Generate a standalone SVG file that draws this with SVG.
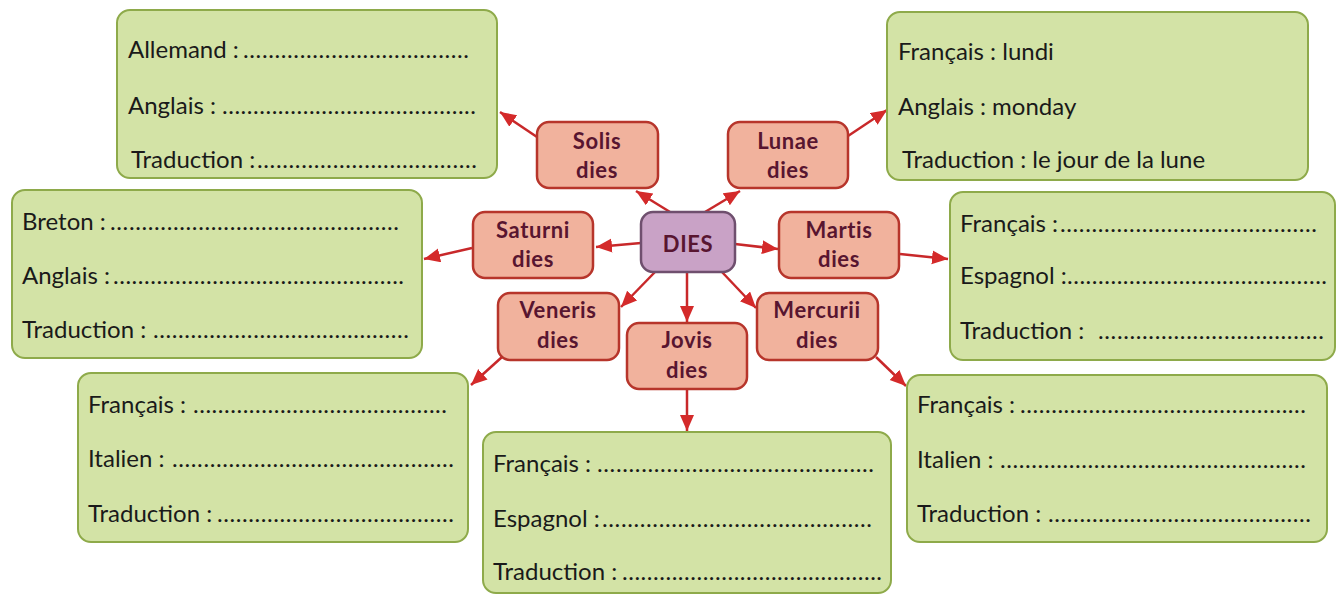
<svg xmlns="http://www.w3.org/2000/svg" width="1342" height="596" viewBox="0 0 1342 596">
<style>
  .box { fill: #d3e3a6; stroke: #8eaa4a; stroke-width: 2; }
  .lbl { font-family: Lato, "Open Sans", sans-serif; font-size: 24px; fill: #1a1a1a; }
  .node { fill: #f1b29d; stroke: #b7352b; stroke-width: 2.5; }
  .center { fill: #c9a2c6; stroke: #6f4f6e; stroke-width: 2.5; }
  .nt { font-family: Lato, "Open Sans", sans-serif; font-size: 22px; font-weight: bold; fill: #581530; text-anchor: middle; letter-spacing: 0.6px; }
  .conn line { stroke: #c8282a; stroke-width: 2.5; marker-end: url(#ah); }
</style>
<defs>
  <marker id="ah" markerUnits="userSpaceOnUse" markerWidth="18" markerHeight="16" refX="16" refY="7" orient="auto">
    <path d="M0,0 L16,7 L0,14 z" fill="#d42a2a"/>
  </marker>
</defs>
<rect width="1342" height="596" fill="#ffffff"/>

<g id="connectors" class="conn">
  <line x1="670" y1="212" x2="636" y2="191"/>
  <line x1="705" y1="212" x2="740" y2="191"/>
  <line x1="641" y1="243" x2="596" y2="247"/>
  <line x1="735" y1="244" x2="778" y2="249"/>
  <line x1="655" y1="272" x2="621" y2="307"/>
  <line x1="687" y1="272" x2="687" y2="322"/>
  <line x1="722" y1="272" x2="756" y2="308"/>
  <line x1="537" y1="137" x2="500" y2="112"/>
  <line x1="848" y1="136" x2="887" y2="110"/>
  <line x1="472" y1="248" x2="424" y2="259"/>
  <line x1="900" y1="254" x2="948" y2="259"/>
  <line x1="502" y1="357" x2="471" y2="385"/>
  <line x1="687" y1="389" x2="687" y2="431"/>
  <line x1="876" y1="357" x2="906" y2="386"/>
</g>

<g id="box-solis">
  <rect class="box" x="117" y="10" width="380" height="168" rx="13"/>
  <text class="lbl" x="128" y="58">Allemand :<tspan x="243" textLength="226" lengthAdjust="spacing">....................................</tspan></text>
  <text class="lbl" x="128" y="114">Anglais :<tspan x="222" textLength="254" lengthAdjust="spacing">.........................................</tspan></text>
  <text class="lbl" x="131" y="168">Traduction :<tspan x="257" textLength="220" lengthAdjust="spacing">...................................</tspan></text>
</g>

<g id="box-lunae">
  <rect class="box" x="887" y="12" width="421" height="168" rx="13"/>
  <text class="lbl" x="898" y="60">Français : lundi</text>
  <text class="lbl" x="898" y="115">Anglais : monday</text>
  <text class="lbl" x="902" y="168">Traduction : le jour de la lune</text>
</g>

<g id="box-saturni">
  <rect class="box" x="12" y="190" width="410" height="168" rx="13"/>
  <text class="lbl" x="22" y="230">Breton :<tspan x="110" textLength="289" lengthAdjust="spacing">..............................................</tspan></text>
  <text class="lbl" x="22" y="284">Anglais :<tspan x="113" textLength="291" lengthAdjust="spacing">...............................................</tspan></text>
  <text class="lbl" x="22" y="338">Traduction :<tspan x="153" textLength="256" lengthAdjust="spacing">.........................................</tspan></text>
</g>

<g id="box-martis">
  <rect class="box" x="950" y="192" width="385" height="168" rx="13"/>
  <text class="lbl" x="960" y="232">Français :<tspan x="1060" textLength="257" lengthAdjust="spacing">.........................................</tspan></text>
  <text class="lbl" x="960" y="284">Espagnol :<tspan x="1067" textLength="260" lengthAdjust="spacing">..........................................</tspan></text>
  <text class="lbl" x="960" y="339">Traduction : <tspan x="1098" textLength="226" lengthAdjust="spacing">....................................</tspan></text>
</g>

<g id="box-veneris">
  <rect class="box" x="78" y="373" width="390" height="169" rx="13"/>
  <text class="lbl" x="88" y="413">Français :<tspan x="193" textLength="254" lengthAdjust="spacing">.........................................</tspan></text>
  <text class="lbl" x="88" y="467">Italien :<tspan x="172" textLength="282" lengthAdjust="spacing">.............................................</tspan></text>
  <text class="lbl" x="88" y="522">Traduction :<tspan x="217" textLength="237" lengthAdjust="spacing">......................................</tspan></text>
</g>

<g id="box-jovis">
  <rect class="box" x="483" y="432" width="408" height="161" rx="13"/>
  <text class="lbl" x="493" y="472">Français :<tspan x="597" textLength="277" lengthAdjust="spacing">............................................</tspan></text>
  <text class="lbl" x="493" y="527">Espagnol :<tspan x="602" textLength="270" lengthAdjust="spacing">...........................................</tspan></text>
  <text class="lbl" x="493" y="580">Traduction :<tspan x="622" textLength="260" lengthAdjust="spacing">..........................................</tspan></text>
</g>

<g id="box-mercurii">
  <rect class="box" x="907" y="375" width="420" height="167" rx="13"/>
  <text class="lbl" x="917" y="413">Français :<tspan x="1020" textLength="286" lengthAdjust="spacing">..............................................</tspan></text>
  <text class="lbl" x="917" y="468">Italien :<tspan x="1000" textLength="306" lengthAdjust="spacing">.................................................</tspan></text>
  <text class="lbl" x="917" y="522">Traduction :<tspan x="1048" textLength="263" lengthAdjust="spacing">..........................................</tspan></text>
</g>

<g id="node-dies">
  <rect class="center" x="641" y="212" width="94" height="60" rx="12"/>
  <text class="nt" x="688" y="252">DIES</text>
</g>
<g id="node-solis">
  <rect class="node" x="537" y="122" width="121" height="66" rx="12"/>
  <text class="nt" x="597" y="149">Solis</text>
  <text class="nt" x="597" y="178">dies</text>
</g>
<g id="node-lunae">
  <rect class="node" x="728" y="122" width="120" height="66" rx="12"/>
  <text class="nt" x="788" y="149">Lunae</text>
  <text class="nt" x="788" y="178">dies</text>
</g>
<g id="node-saturni">
  <rect class="node" x="473" y="212" width="120" height="66" rx="12"/>
  <text class="nt" x="533" y="238">Saturni</text>
  <text class="nt" x="533" y="267">dies</text>
</g>
<g id="node-martis">
  <rect class="node" x="779" y="212" width="120" height="66" rx="12"/>
  <text class="nt" x="839" y="238">Martis</text>
  <text class="nt" x="839" y="267">dies</text>
</g>
<g id="node-veneris">
  <rect class="node" x="498" y="293" width="121" height="67" rx="12"/>
  <text class="nt" x="558" y="318">Veneris</text>
  <text class="nt" x="558" y="348">dies</text>
</g>
<g id="node-jovis">
  <rect class="node" x="627" y="323" width="120" height="66" rx="12"/>
  <text class="nt" x="687" y="348">Jovis</text>
  <text class="nt" x="687" y="378">dies</text>
</g>
<g id="node-mercurii">
  <rect class="node" x="757" y="293" width="121" height="67" rx="12"/>
  <text class="nt" x="817" y="318">Mercurii</text>
  <text class="nt" x="817" y="348">dies</text>
</g>
</svg>
